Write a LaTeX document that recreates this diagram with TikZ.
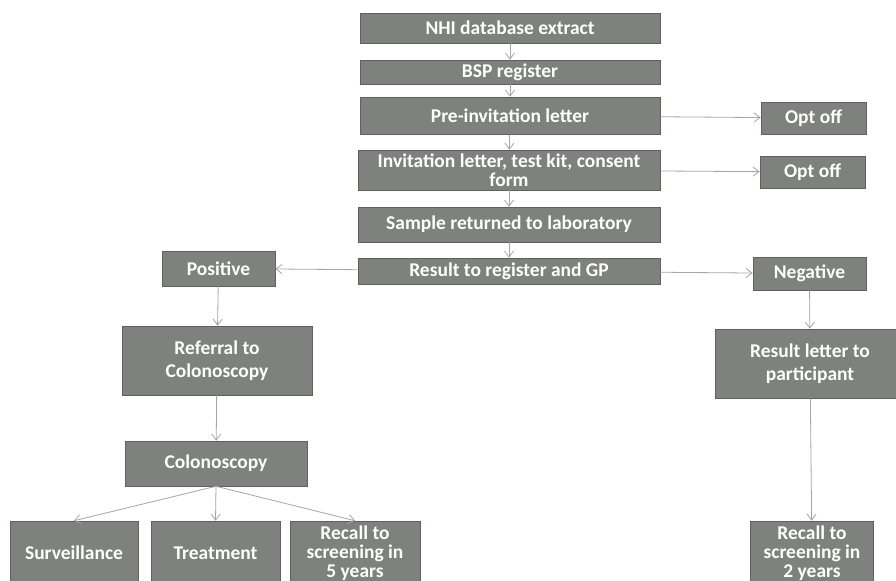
\documentclass[tikz,border=0pt]{standalone}
\usepackage{fontspec}
\setmainfont{Carlito}
\usepackage{xcolor}
\usetikzlibrary{arrows.meta}

\definecolor{boxgray}{RGB}{126,129,125}
\definecolor{edgegray}{RGB}{95,97,94}
\definecolor{linegray}{RGB}{165,165,165}

\begin{document}
\begin{tikzpicture}[
  x=0.75pt, y=-0.75pt,
  font=\fontsize{14.6}{14.4}\selectfont\bfseries,
  box/.style={draw=edgegray, fill=boxgray, text=white, align=center, inner sep=1pt},
  arr/.style={-{Straight Barb[length=1.6mm, width=2.4mm]}, draw=linegray, line width=0.6pt}]
\clip (0,0) rectangle (896,581);
\fill[white] (0,0) rectangle (896,581);
% main column
\node[box, minimum width=225pt, minimum height=22.5pt] (nhi) at (510,28) {NHI database extract};
\node[box, minimum width=225pt, minimum height=18pt] (bsp) at (510,72) {BSP register};
\node[box, minimum width=225pt, minimum height=27.75pt] (pre) at (510,115.5) {Pre-invitation letter};
\node[box, minimum width=226.5pt, minimum height=30pt] (inv) at (509,170) {Invitation letter, test kit, consent\\form};
\node[box, minimum width=226.5pt, minimum height=26.25pt] (smp) at (509,224.5) {Sample returned to laboratory};
\node[box, minimum width=226.5pt, minimum height=19.5pt] (res) at (509,271) {Result to register and GP};
% opt off
\node[box, minimum width=78.75pt, minimum height=24pt] (opt1) at (813.5,118) {Opt off};
\node[box, minimum width=78.75pt, minimum height=24pt] (opt2) at (812.5,172) {Opt off};
% positive branch
\node[box, minimum width=84.75pt, minimum height=26.25pt] (pos) at (218.5,268.5) {Positive};
\node[box, minimum width=142.5pt, minimum height=51.75pt] (ref) at (217,360.5) {Referral to\\[2.5pt]Colonoscopy};
\node[box, minimum width=136.5pt, minimum height=33.75pt] (col) at (216,463.5) {Colonoscopy};
\node[box, minimum width=96pt, minimum height=48pt] (sur) at (74,553) {Surveillance};
\node[box, minimum width=96.75pt, minimum height=48pt] (trt) at (215.5,553) {Treatment};
\node[box, minimum width=97.5pt, minimum height=48pt] (rc5) at (355,553) {Recall to\\screening in\\5 years};
% negative branch
\node[box, minimum width=84.75pt, minimum height=24.75pt] (neg) at (809.5,273.5) {Negative};
\node[box, minimum width=142.5pt, minimum height=51.75pt] (let) at (810,363.5) {Result letter to\\[2.5pt]participant};
\node[box, minimum width=92.25pt, minimum height=48pt] (rc2) at (812,553) {Recall to\\screening in\\2 years};
\foreach \a/\b in {nhi/bsp, bsp/pre, pre/inv, inv/smp, smp/res, pre/opt1, inv/opt2, res/pos, res/neg, pos/ref, ref/col, neg/let, let/rc2} \draw[arr] (\a) -- (\b);
\foreach \b in {sur, trt, rc5} \draw[arr] (col.south) -- (\b.north);
\end{tikzpicture}
\end{document}
